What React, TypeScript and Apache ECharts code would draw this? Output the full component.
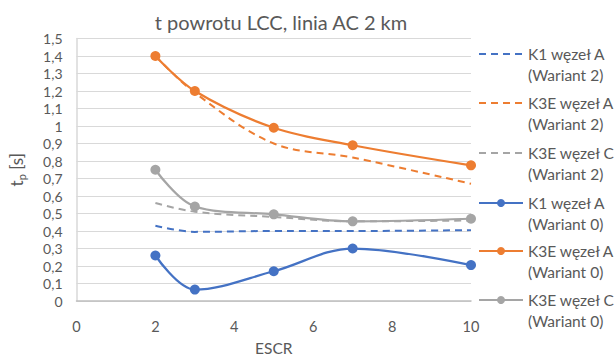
import React, { useEffect, useRef } from "react";
import * as echarts from "echarts";

const escr = [2, 3, 5, 7, 10];
const k1A_w2 = [0.43, 0.395, 0.4, 0.4, 0.405];
const k3eA_w2 = [1.4, 1.19, 0.9, 0.82, 0.67];
const k3eC_w2 = [0.56, 0.51, 0.48, 0.455, 0.46];
const k1A_w0 = [0.26, 0.065, 0.17, 0.3, 0.205];
const k3eA_w0 = [1.4, 1.2, 0.99, 0.89, 0.775];
const k3eC_w0 = [0.75, 0.54, 0.495, 0.455, 0.47];

const names = [
  "K1 węzeł A (Wariant 2)",
  "K3E węzeł A (Wariant 2)",
  "K3E węzeł C (Wariant 2)",
  "K1 węzeł A (Wariant 0)",
  "K3E węzeł A (Wariant 0)",
  "K3E węzeł C (Wariant 0)",
];
const colors = ["#4472C4", "#ED7D31", "#A5A5A5", "#4472C4", "#ED7D31", "#A5A5A5"];
const values = [k1A_w2, k3eA_w2, k3eC_w2, k1A_w0, k3eA_w0, k3eC_w0];
const legendCenters = [54, 103, 153, 203, 251, 300];

const FONT = "Lato";
const TXT = "#595959";

export default function App() {
  const ref = useRef<HTMLDivElement>(null);
  useEffect(() => {
    if (!ref.current) return;
    const chart = echarts.init(ref.current, undefined, { renderer: "svg" });
    const series = names.map((n, i) => {
      const dashed = i < 3;
      return {
        name: n,
        type: "line",
        smooth: 0.35,
        data: escr.map((x, j) => [x, values[i][j]]),
        symbol: dashed ? "none" : "circle",
        symbolSize: 10,
        showSymbol: !dashed,
        z: dashed ? 2 : 3,
        lineStyle: {
          color: colors[i],
          width: dashed ? 2 : 2.25,
          type: dashed ? [7, 5] : "solid",
        },
        itemStyle: { color: colors[i] },
      };
    });
    const legends = names.map((n, i) => {
      const dashed = i < 3;
      return {
        data: [
          dashed
            ? { name: n, itemStyle: { color: "rgba(0,0,0,0)", borderWidth: 0, opacity: 0 } }
            : { name: n },
        ],
        orient: "vertical",
        left: 478,
        top: legendCenters[i] - 31.5,
        padding: 0,
        itemWidth: 44,
        itemHeight: 10,
        itemGap: 0,
        selectedMode: false,
        formatter: (name: string) => {
          const k = name.indexOf(" (");
          return "\n" + name.slice(0, k) + "\n" + name.slice(k + 1);
        },
        textStyle: { fontFamily: FONT, fontSize: 15.5, color: TXT, lineHeight: 21 },
      };
    });
    chart.setOption({
      animation: false,
      title: {
        text: "t powrotu LCC, linia AC 2 km",
        left: 276,
        textAlign: "center",
        top: 7,
        textStyle: { fontFamily: FONT, fontSize: 20, fontWeight: "normal", color: TXT },
      },
      legend: legends,
      grid: { left: 76, right: 143, top: 38.5, bottom: 52, containLabel: false },
      xAxis: {
        type: "value",
        min: 0,
        max: 10,
        interval: 2,
        name: "ESCR",
        nameLocation: "middle",
        nameGap: 39,
        nameTextStyle: { fontFamily: FONT, fontSize: 15.5, color: TXT },
        axisLine: { show: true, lineStyle: { color: "#BFBFBF", width: 1.5 } },
        axisTick: { show: false },
        splitLine: { show: false },
        axisLabel: { fontFamily: FONT, fontSize: 14.5, color: TXT, margin: 18 },
      },
      yAxis: {
        type: "value",
        min: 0,
        max: 1.5,
        interval: 0.1,
        name: "{a|t}{b|p}{a| [s]}",
        nameLocation: "middle",
        nameRotate: 90,
        nameGap: 50,
        nameTextStyle: {
          rich: {
            a: { fontFamily: FONT, fontSize: 17, color: TXT },
            b: { fontFamily: FONT, fontSize: 11, color: TXT, padding: [9, 0, 0, 0] },
          },
        },
        axisLine: { show: true, lineStyle: { color: "#D9D9D9", width: 1.5 } },
        axisTick: { show: false },
        splitLine: { lineStyle: { color: "#D9D9D9", width: 1.2 } },
        axisLabel: {
          fontFamily: FONT,
          fontSize: 14,
          color: TXT,
          margin: 14,
          formatter: (v: number) =>
            Math.abs(v - Math.round(v)) < 1e-6 ? String(Math.round(v)) : v.toFixed(1).replace(".", ","),
        },
      },
      series,
    });
    return () => chart.dispose();
  }, []);
  return <div ref={ref} style={{ width: 614, height: 361, position: "absolute", left: 0, top: 0 }} />;
}
